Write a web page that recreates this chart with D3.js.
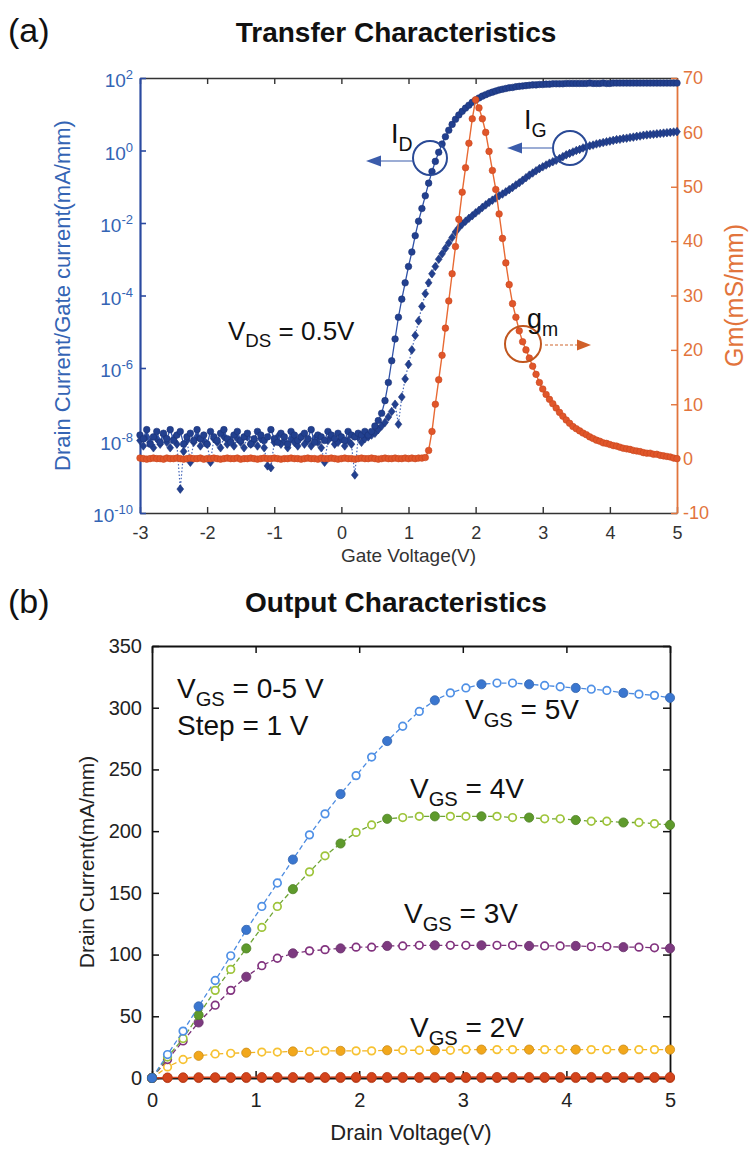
<!DOCTYPE html>
<html>
<head>
<meta charset="utf-8">
<script src="https://cdn.jsdelivr.net/npm/d3@7"></script>
<style>
  body { margin: 0; background: #fff; }
  svg { display: block; }
  text { font-family: "Liberation Sans", Arial, sans-serif; }
</style>
</head>
<body>
<svg id="fig" width="750" height="1151"></svg>
<script>
// ---------------- (a) transfer characteristics, V_DS = 0.5 V ----------------
// gate sweep grid (V)
const gateSweep = { start: -3, step: 0.05, count: 161 };

// log10 of drain current I_D (mA/mm), one value per sweep point
const drainCurrentLog = [
  -7.85,-7.95,-7.7,-8.1,-7.9,-7.75,-8.05,-7.8,-7.95,-7.7,
  -8.0,-7.85,-7.75,-8.1,-7.9,-7.8,-8.0,-7.7,-7.95,-7.85,
  -8.1,-7.75,-7.9,-8.0,-7.8,-7.7,-7.95,-8.05,-7.85,-7.75,
  -8.0,-7.9,-7.8,-8.1,-7.95,-7.75,-7.85,-8.0,-7.9,-7.7,
  -7.95,-8.05,-7.8,-7.9,-8.1,-7.75,-7.85,-8.0,-7.9,-7.8,
  -7.95,-7.7,-8.05,-7.85,-7.9,-8.0,-7.75,-7.85,-7.95,-7.8,
  -7.9,-8.0,-7.75,-7.85,-7.9,-7.8,-7.85,-7.75,-7.85,-7.75,
  -7.6,-7.45,
  -7.25,-6.9,-6.4,-5.8,-5.2,-4.6,-4.1,-3.65,-3.2,-2.8,
  -2.35,-1.95,-1.6,-1.25,-0.9,-0.58,-0.3,-0.05,0.18,0.38,
  0.56,0.72,0.86,0.98,1.08,1.17,1.25,1.33,1.39,1.45,
  1.5,1.54,1.58,1.61,1.64,1.67,1.69,1.71,1.73,1.74,
  1.76,1.77,1.78,1.79,1.8,1.81,1.81,1.82,1.82,1.83,
  1.83,1.84,1.84,1.84,1.84,1.85,1.85,1.85,1.85,1.85,
  1.85,1.85,1.86,1.85,1.85,1.85,1.86,1.85,1.85,1.86,
  1.86,1.86,1.86,1.86,1.86,1.86,1.86,1.86,1.86,1.86,
  1.86,1.86,1.86,1.86,1.86,1.86,1.86,1.86,1.86
];

// log10 of gate current I_G (mA/mm)
const gateCurrentLog = [
  -8.0,-8.15,-7.9,-8.05,-8.2,-7.95,-8.1,-7.85,-8.05,-8.2,
  -7.95,-8.1,-9.34,-8.3,-8.0,-8.6,-8.05,-7.9,-8.15,-8.0,
  -8.1,-8.6,-7.95,-8.05,-8.2,-7.9,-8.1,-8.0,-8.15,-7.95,
  -8.05,-8.2,-7.9,-8.1,-8.0,-8.15,-7.95,-8.2,-8.7,-8.75,
  -8.05,-7.9,-8.1,-8.0,-8.2,-7.95,-8.05,-8.15,-7.9,-8.1,
  -8.0,-8.15,-7.95,-8.05,-8.2,-8.6,-8.0,-7.9,-8.1,-8.05,
  -7.95,-8.15,-8.0,-8.1,-8.95,-7.9,-8.05,-7.95,-7.9,-7.85,
  -7.8,-7.7,-7.6,-7.5,-7.35,-7.2,-7.0,
  -7.55,-6.8,-6.3,-5.9,-5.5,-5.1,-4.7,-4.3,-3.95,-3.65,
  -3.4,-3.2,-3.0,-2.85,-2.7,-2.55,-2.4,-2.25,-2.13,-2.03,
  -1.95,-1.87,-1.8,-1.72,-1.65,-1.57,-1.5,-1.43,-1.37,-1.31,
  -1.25,-1.2,-1.14,-1.08,-1.02,-0.95,-0.89,-0.82,-0.75,-0.68,
  -0.62,-0.56,-0.5,-0.45,-0.4,-0.35,-0.31,-0.27,-0.22,-0.17,
  -0.12,-0.08,-0.04,0.0,0.03,0.07,0.1,0.13,0.15,0.18,
  0.2,0.22,0.24,0.26,0.28,0.3,0.31,0.33,0.34,0.36,
  0.37,0.39,0.4,0.42,0.43,0.44,0.45,0.46,0.47,0.48,
  0.49,0.5,0.51,0.52
];

// transconductance g_m (mS/mm)
const transconductance = [
  0.1,0,-0.1,0,0.1,0,0,-0.1,0.1,0,
  0,0.1,0,-0.1,0,0.1,0,0,0.1,-0.1,
  0,0,0.1,0,-0.1,0,0.1,0,0,0.1,
  -0.1,0,0,0.1,0,-0.1,0,0.1,0,0,
  0.1,0,-0.1,0,0,0.1,0,0,-0.1,0,
  0.1,0,0,-0.1,0.1,0,0,0.1,0,-0.1,
  0,0.1,0,0,-0.1,0,0.1,0,0,0.1,
  0,-0.1,0,0.1,0,0,0.1,0,0,0.1,
  0,0.1,0,0.1,0.1,
  0.2,1.5,5,10,14.5,19,24,29,34,39,44,49,53.5,58,62.5,66,
  64.5,62.5,60,56.5,53,49.5,45,40.5,36,32,28.5,26,23.5,21.5,20,18.5,17,15.5,14,12.8,
  11.8,10.9,10.1,9.3,8.5,7.8,7.1,6.5,5.9,5.5,5.1,4.7,4.4,4.0,3.7,3.4,3.2,2.9,2.8,2.6,
  2.4,2.3,2.1,1.9,1.8,1.7,1.5,1.4,1.3,1.1,1.0,1.0,0.8,0.8,0.6,0.5,0.4,0.3,0.1,0.0
];

const gateTicks = [-3, -2, -1, 0, 1, 2, 3, 4, 5];
const currentTickExponents = [2, 0, -2, -4, -6, -8, -10];
const gmTicks = [70, 60, 50, 40, 30, 20, 10, 0, -10];

// ---------------- (b) output characteristics ----------------
const drainVoltage = [0,0.15,0.30,0.45,0.61,0.76,0.91,1.06,1.21,1.36,1.52,1.67,1.82,1.97,2.12,2.27,2.42,
  2.58,2.73,2.88,3.03,3.18,3.33,3.48,3.64,3.79,3.94,4.09,4.24,4.39,4.55,4.70,4.85,5.00];
const idVgs5 = [0,19,38,58,79,99,120,139,158,177,197,214,230,245,260,273,285,297,306,312,316,319,320,320,
  319,318,317,316,315,314,312,311,310,308];
const idVgs4 = [0,17,32,51,71,88,105,122,139,153,167,180,190,199,205,210,211,212,212,212,212,212,212,211,
  211,210,210,209,208,208,207,207,206,205];
const idVgs3 = [0,15,30,45,59,71,82,91,97,101,103,104,105,106,106,107,107,107.5,107.5,107.5,107.5,107.5,
  107.5,107.5,107,107,107,107,106.5,106.5,106,106,105.5,105];
const idVgs2 = [0,9,15,18,19.5,20,20.5,21,21,21.5,21.5,22,22,22,22,22.5,22.5,22.5,22.5,22.5,23,23,23,23,
  23,23,23,23,23,23,23,23,23,23];
const idVgs1 = [0,0.4,0.5,0.6,0.6,0.6,0.7,0.7,0.7,0.7,0.7,0.7,0.8,0.8,0.8,0.8,0.8,0.8,0.8,0.8,0.8,0.8,
  0.8,0.8,0.8,0.8,0.8,0.8,0.8,0.8,0.8,0.8,0.8,0.8];
const idVgs0 = [0,0,0,0,0,0,0,0,0,0,0,0,0,0,0,0,0,0,0,0,0,0,0,0,0,0,0,0,0,0,0,0,0,0];
const drainTicks = [0, 1, 2, 3, 4, 5];
const outputCurrentTicks = [0, 50, 100, 150, 200, 250, 300, 350];

// ---------------- drawing ----------------
const svg = d3.select('#fig');
svg.append('rect').attr('width', 750).attr('height', 1151).attr('fill', '#fff');

const NAVY = '#22408f';
const LBLUE = '#3464b4';
const ORANGE = '#e0562a';
const ORANGE_AX = '#e2743c';

function subLabel(parent, x, y, parts, size, color) {
  // parts: [text, isSub]
  const t = parent.append('text').attr('x', x).attr('y', y)
    .attr('font-size', size).attr('fill', color || '#111');
  let shifted = false;
  parts.forEach(([s, sub]) => {
    const ts = t.append('tspan').text(s);
    if (sub && !shifted) { ts.attr('dy', size * 0.28).attr('font-size', size * 0.72); shifted = true; }
    else if (!sub && shifted) { ts.attr('dy', -size * 0.28); shifted = false; }
  });
  return t;
}

// ---- panel (a) ----
const A = { left: 140, right: 677, top: 78, bottom: 513 };
const xA = d3.scaleLinear().domain([-3, 5]).range([A.left, A.right]);
const yI = d3.scaleLog().domain([1e-10, 1e2]).range([A.bottom, A.top]);
const yG = d3.scaleLinear().domain([-10, 70]).range([A.bottom, A.top]);

const gate = d3.range(gateSweep.count).map(i => +(gateSweep.start + i * gateSweep.step).toFixed(2));
const idPts = gate.map((v, i) => ({ v, c: Math.pow(10, drainCurrentLog[i]) })).filter(d => !isNaN(d.c));
const igPts = gate.map((v, i) => ({ v, c: Math.pow(10, gateCurrentLog[i]) })).filter(d => !isNaN(d.c));
const gmPts = gate.map((v, i) => ({ v, g: transconductance[i] })).filter(d => d.g !== undefined);

svg.append('text').attr('x', 8).attr('y', 42).attr('font-family', 'Lato, sans-serif')
  .attr('font-size', 34).attr('fill', '#111').text('(a)');
svg.append('text').attr('x', 396).attr('y', 42).attr('text-anchor', 'middle')
  .attr('font-family', 'Lato, sans-serif').attr('font-weight', 700)
  .attr('font-size', 28).attr('fill', '#111').text('Transfer Characteristics');

const gA = svg.append('g');

// axes
const axB = gA.append('g').attr('transform', `translate(0,${A.bottom})`)
  .call(d3.axisBottom(xA).tickValues(gateTicks).tickSizeInner(-6).tickSizeOuter(0)
    .tickPadding(13).tickFormat(d => String(d)));
const axT = gA.append('g').attr('transform', `translate(0,${A.top})`)
  .call(d3.axisTop(xA).tickValues(gateTicks).tickSizeInner(-6).tickSizeOuter(0).tickFormat(''));
const axL = gA.append('g').attr('transform', `translate(${A.left},0)`)
  .call(d3.axisLeft(yI).tickValues(currentTickExponents.map(e => Math.pow(10, e)))
    .tickSizeInner(-6).tickSizeOuter(0).tickPadding(7));
const axR = gA.append('g').attr('transform', `translate(${A.right},0)`)
  .call(d3.axisRight(yG).tickValues(gmTicks).tickSizeInner(-6).tickSizeOuter(0)
    .tickPadding(6).tickFormat(d => String(d)));

[axB, axT].forEach(ax => {
  ax.select('.domain').attr('stroke', '#333').attr('stroke-width', 1.6);
  ax.selectAll('.tick line').attr('stroke', '#333').attr('stroke-width', 1.4);
  ax.selectAll('.tick text').attr('font-size', 18).attr('fill', '#333')
    .attr('font-family', '"Liberation Sans", Arial, sans-serif');
});
axL.select('.domain').attr('stroke', '#2a4aa0').attr('stroke-width', 2.2);
axL.selectAll('.tick line').attr('stroke', '#2a4aa0').attr('stroke-width', 1.6);
axL.selectAll('.tick text').attr('font-size', 19).attr('fill', LBLUE)
  .attr('font-family', '"Liberation Sans", Arial, sans-serif')
  .each(function (d) {
    const t = d3.select(this);
    const e = Math.round(Math.log10(d));
    t.text(null).attr('dy', '0.45em');
    t.append('tspan').text('10');
    t.append('tspan').attr('dy', '-0.6em').attr('font-size', 13).text(String(e));
  });
axR.select('.domain').attr('stroke', ORANGE_AX).attr('stroke-width', 1.8);
axR.selectAll('.tick line').attr('stroke', ORANGE_AX).attr('stroke-width', 1.4);
axR.selectAll('.tick text').attr('font-size', 18).attr('fill', ORANGE_AX)
  .attr('font-family', '"Liberation Sans", Arial, sans-serif');

// axis titles
gA.append('text').attr('transform', `translate(62,${(A.top + A.bottom) / 2}) rotate(-90)`)
  .attr('text-anchor', 'middle').attr('dominant-baseline', 'central')
  .attr('font-size', 22).attr('fill', LBLUE).text('Drain Current/Gate current(mA/mm)');
gA.append('text').attr('transform', `translate(734,${(A.top + A.bottom) / 2}) rotate(-90)`)
  .attr('text-anchor', 'middle').attr('dominant-baseline', 'central')
  .attr('font-size', 25).attr('fill', ORANGE_AX).text('Gm(mS/mm)');
gA.append('text').attr('x', (A.left + A.right) / 2).attr('y', 562).attr('text-anchor', 'middle')
  .attr('font-size', 19).attr('fill', '#333').text('Gate Voltage(V)');

// I_G: dotted line with diamonds
gA.append('path').datum(igPts)
  .attr('d', d3.line().x(d => xA(d.v)).y(d => yI(d.c)))
  .attr('fill', 'none').attr('stroke', '#4566b8').attr('stroke-width', 1.2)
  .attr('stroke-dasharray', '1.5,2');
gA.append('g').selectAll('path').data(igPts).join('path')
  .attr('transform', d => `translate(${xA(d.v)},${yI(d.c)})`)
  .attr('d', 'M0,-4.3L3.4,0L0,4.3L-3.4,0Z')
  .attr('fill', NAVY).attr('stroke', '#1b3277').attr('stroke-width', 0.6);

// I_D: solid line with dots
gA.append('path').datum(idPts)
  .attr('d', d3.line().x(d => xA(d.v)).y(d => yI(d.c)))
  .attr('fill', 'none').attr('stroke', '#2f52a8').attr('stroke-width', 1.3);
gA.append('g').selectAll('circle').data(idPts).join('circle')
  .attr('cx', d => xA(d.v)).attr('cy', d => yI(d.c)).attr('r', 3.3)
  .attr('fill', NAVY).attr('stroke', '#1b3277').attr('stroke-width', 0.6);

// g_m: solid line with dots (right axis)
gA.append('path').datum(gmPts)
  .attr('d', d3.line().x(d => xA(d.v)).y(d => yG(d.g)))
  .attr('fill', 'none').attr('stroke', '#e86a34').attr('stroke-width', 1.4);
gA.append('g').selectAll('circle').data(gmPts).join('circle')
  .attr('cx', d => xA(d.v)).attr('cy', d => yG(d.g)).attr('r', 3.3)
  .attr('fill', ORANGE).attr('stroke', '#c9471e').attr('stroke-width', 0.6);

// annotations
gA.append('circle').attr('cx', 430).attr('cy', 158).attr('r', 17)
  .attr('fill', 'none').attr('stroke', '#2a4a96').attr('stroke-width', 2);
gA.append('line').attr('x1', 413).attr('y1', 161).attr('x2', 378).attr('y2', 161)
  .attr('stroke', '#3b5cab').attr('stroke-width', 1.2);
gA.append('path').attr('d', 'M366,161L381,155.5L381,166.5Z').attr('fill', '#3b5cab');
subLabel(gA, 391, 143, [['I', false], ['D', true]], 27, '#111');

gA.append('circle').attr('cx', 570).attr('cy', 148).attr('r', 17)
  .attr('fill', 'none').attr('stroke', '#2a4a96').attr('stroke-width', 2);
gA.append('line').attr('x1', 553).attr('y1', 148).attr('x2', 519).attr('y2', 148)
  .attr('stroke', '#3b5cab').attr('stroke-width', 1.2);
gA.append('path').attr('d', 'M507,148L522,142.5L522,153.5Z').attr('fill', '#3b5cab');
subLabel(gA, 524, 129, [['I', false], ['G', true]], 27, '#111');

gA.append('circle').attr('cx', 523).attr('cy', 344).attr('r', 18)
  .attr('fill', 'none').attr('stroke', '#c0561e').attr('stroke-width', 2);
gA.append('line').attr('x1', 545).attr('y1', 345).attr('x2', 579).attr('y2', 345)
  .attr('stroke', '#d0662e').attr('stroke-width', 1.2).attr('stroke-dasharray', '3,2');
gA.append('path').attr('d', 'M591,345L577,339.5L577,350.5Z').attr('fill', '#d0602a');
subLabel(gA, 527, 328, [['g', false], ['m', true]], 27, '#111');

subLabel(gA, 228, 340, [['V', false], ['DS', true], [' = 0.5V', false]], 26, '#111');

// ---- panel (b) ----
const B = { left: 152, right: 670, top: 646, bottom: 1078 };
const xB = d3.scaleLinear().domain([0, 5]).range([B.left, B.right]);
const yB = d3.scaleLinear().domain([0, 350]).range([B.bottom, B.top]);

svg.append('text').attr('x', 8).attr('y', 613).attr('font-family', 'Lato, sans-serif')
  .attr('font-size', 34).attr('fill', '#111').text('(b)');
svg.append('text').attr('x', 396).attr('y', 612).attr('text-anchor', 'middle')
  .attr('font-family', 'Lato, sans-serif').attr('font-weight', 700)
  .attr('font-size', 28).attr('fill', '#111').text('Output Characteristics');

const gB = svg.append('g');
const bAxes = [
  gB.append('g').attr('transform', `translate(0,${B.bottom})`)
    .call(d3.axisBottom(xB).tickValues(drainTicks).tickSizeInner(-7).tickSizeOuter(0).tickPadding(15)
      .tickFormat(d => String(d))),
  gB.append('g').attr('transform', `translate(0,${B.top})`)
    .call(d3.axisTop(xB).tickValues(drainTicks).tickSizeInner(-7).tickSizeOuter(0).tickFormat('')),
  gB.append('g').attr('transform', `translate(${B.left},0)`)
    .call(d3.axisLeft(yB).tickValues(outputCurrentTicks).tickSizeInner(-7).tickSizeOuter(0).tickPadding(10)
      .tickFormat(d => String(d))),
  gB.append('g').attr('transform', `translate(${B.right},0)`)
    .call(d3.axisRight(yB).tickValues(outputCurrentTicks).tickSizeInner(-7).tickSizeOuter(0).tickFormat(''))
];
bAxes.forEach(ax => {
  ax.select('.domain').attr('stroke', '#111').attr('stroke-width', 1.8);
  ax.selectAll('.tick line').attr('stroke', '#111').attr('stroke-width', 1.5);
  ax.selectAll('.tick text').attr('font-size', 20).attr('fill', '#222')
    .attr('font-family', '"Liberation Sans", Arial, sans-serif');
});
gB.append('text').attr('transform', `translate(86,${(B.top + B.bottom) / 2}) rotate(-90)`)
  .attr('text-anchor', 'middle').attr('dominant-baseline', 'central')
  .attr('font-size', 21).attr('fill', '#222').text('Drain Current(mA/mm)');
gB.append('text').attr('x', (B.left + B.right) / 2).attr('y', 1140).attr('text-anchor', 'middle')
  .attr('font-size', 22).attr('fill', '#222').text('Drain Voltage(V)');

const outputSeries = [
  { vals: idVgs0, line: '#1a1a1a', fill: '#d9481e', open: '#d9481e', allFilled: true },
  { vals: idVgs1, line: '#d84a22', fill: '#d4441c', open: '#d4441c', allFilled: true },
  { vals: idVgs2, line: '#f3b422', fill: '#f2a71b', open: '#f7c232', allFilled: false },
  { vals: idVgs3, line: '#7a3179', fill: '#7d3a80', open: '#82337f', allFilled: false },
  { vals: idVgs4, line: '#6fa536', fill: '#5e9a2c', open: '#9ec43a', allFilled: false },
  { vals: idVgs5, line: '#4c8be0', fill: '#3a76cf', open: '#4f90e6', allFilled: false }
];
outputSeries.forEach(s => {
  const pts = drainVoltage.map((v, i) => ({ v, c: s.vals[i], i }));
  gB.append('path').datum(pts)
    .attr('d', d3.line().x(d => xB(d.v)).y(d => yB(d.c)))
    .attr('fill', 'none').attr('stroke', s.line).attr('stroke-width', 1.3)
    .attr('stroke-dasharray', s.allFilled ? null : '5,3');
  gB.append('g').selectAll('circle').data(pts).join('circle')
    .attr('cx', d => xB(d.v)).attr('cy', d => yB(d.c))
    .attr('r', d => (s.allFilled || d.i % 3 === 0) ? 4.6 : 3.8)
    .attr('fill', d => (s.allFilled || d.i % 3 === 0) ? s.fill : '#fff')
    .attr('stroke', d => (s.allFilled || d.i % 3 === 0) ? d3.color(s.fill).darker(0.5) : s.open)
    .attr('stroke-width', d => (s.allFilled || d.i % 3 === 0) ? 0.8 : 1.7);
});

subLabel(gB, 177, 698, [['V', false], ['GS', true], [' = 0-5 V', false]], 28, '#111');
gB.append('text').attr('x', 177).attr('y', 735).attr('font-size', 28).attr('fill', '#111').text('Step = 1 V');
subLabel(gB, 465, 719, [['V', false], ['GS', true], [' = 5V', false]], 28, '#111');
subLabel(gB, 410, 798, [['V', false], ['GS', true], [' = 4V', false]], 28, '#111');
subLabel(gB, 404, 923, [['V', false], ['GS', true], [' = 3V', false]], 28, '#111');
subLabel(gB, 410, 1037, [['V', false], ['GS', true], [' = 2V', false]], 28, '#111');
</script>
</body>
</html>
